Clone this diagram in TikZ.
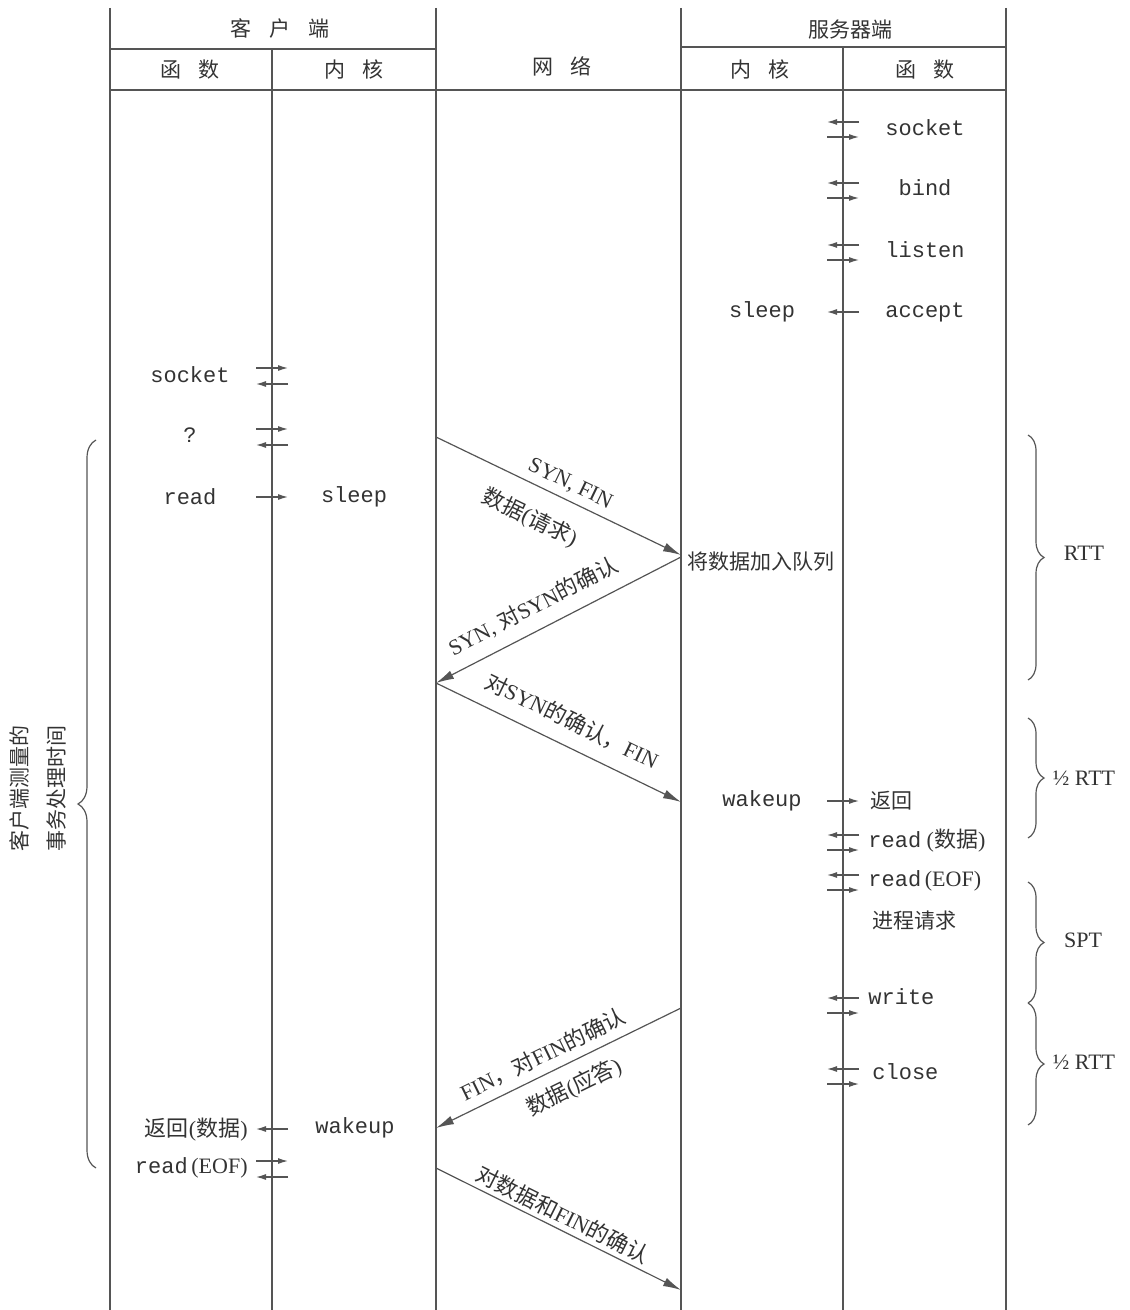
\documentclass[tikz,border=0pt]{standalone}
\usepackage{fontspec}
\setmainfont{Liberation Serif}
\setmonofont{Liberation Mono}
\newfontfamily\cjk{Noto Sans CJK SC}
\usepackage{tikz}
\usetikzlibrary{arrows.meta, decorations.pathreplacing}

\definecolor{ink}{HTML}{333333}
\definecolor{rulegray}{HTML}{555555}

\tikzset{
    fn/.style={font=\fontsize{11}{13}\selectfont\ttfamily, text=ink, inner sep=2pt},
    zh/.style={font=\fontsize{10.5}{13}\selectfont\cjk, text=ink, inner sep=2pt},
    lbl/.style={font=\fontsize{11}{13}\selectfont, text=ink, inner sep=2pt},
    call/.style={draw=rulegray, line width=0.6pt, -{Latex[length=5pt,width=3pt]}},
    seg/.style={draw=rulegray, line width=0.6pt, -{Latex[length=9pt,width=4.5pt]}},
    frame/.style={draw=rulegray, line width=0.7pt},
    brc/.style={draw=rulegray, line width=0.6pt, decorate, decoration={brace, amplitude=8pt}},
}

\begin{document}
\begin{tikzpicture}[x=0.5pt, y=-0.5pt]
        % with x=0.5pt and y=-0.5pt one unit is one pixel of the scan,
        % and y grows downwards like time does in this picture
        \useasboundingbox (0,0) rectangle (1129,1310);

        % the columns and the header rows
        \foreach \x in {110,436,681,1006} \draw[frame] (\x,8) -- (\x,1310);
        \draw[frame] (272,49) -- (272,1310);
        \draw[frame] (843,47) -- (843,1310);
        \draw[frame] (110,49) -- (436,49);
        \draw[frame] (681,47) -- (1006,47);
        \draw[frame] (110,90) -- (1006,90);

        \node[zh] (h-client) at (280,28) {客\hspace{0.85em}户\hspace{0.85em}端};
        \node[zh] (h-server) at (850,30) {服务器端};
        \node[zh] (h-cfn) at (190,70) {函\hspace{0.85em}数};
        \node[zh] (h-ckern) at (354,70) {内\hspace{0.85em}核};
        \node[zh] (h-net) at (562,66) {网\hspace{0.85em}络};
        \node[zh] (h-skern) at (760,70) {内\hspace{0.85em}核};
        \node[zh] (h-sfn) at (925,70) {函\hspace{0.85em}数};

        % server side: a call goes into the kernel (upper arrow) and comes back (lower one)
        \foreach \y [count=\i] in {129,190,252,842,882,1005,1076} {
            \coordinate (sk\i) at (843,\y);
            \draw[call] ([shift={(16,-7)}]sk\i) -- ([shift={(-16,-7)}]sk\i);
            \draw[call] ([shift={(-16,8)}]sk\i) -- ([shift={(16,8)}]sk\i);
        }
        % client side is the mirror image of that
        \foreach \y [count=\i] in {376,437,1169} {
            \coordinate (ck\i) at (272,\y);
            \draw[call] ([shift={(-16,-8)}]ck\i) -- ([shift={(16,-8)}]ck\i);
            \draw[call] ([shift={(16,8)}]ck\i) -- ([shift={(-16,8)}]ck\i);
        }

        \node[fn] (s-socket) at (925,128) {socket};
        \node[fn] (s-bind) at (925,188) {bind};
        \node[fn] (s-listen) at (925,250) {listen};
        \node[fn] (s-accept) at (925,312) {accept};
        \node[fn] (s-sleep) at (762,312) {sleep};
        \coordinate (s-acc) at (843,312);
        \draw[call] ([xshift=8pt]s-acc) -- ([xshift=-8pt]s-acc);

        \node[fn] (c-socket) at (190,375) {socket};
        \node[fn] (c-q) at (190,435) {?};
        \node[fn] (c-read) at (190,497) {read};
        \node[fn] (c-sleep) at (354,497) {sleep};
        \coordinate (c-rd) at (272,497);
        \draw[call] ([xshift=-8pt]c-rd) -- ([xshift=8pt]c-rd);

        \node[zh, anchor=west] (s-queue) at (683,562) {将数据加入队列};
        \node[fn] (s-wake) at (762,801) {wakeup};
        \node[zh, anchor=west] (s-ret) at (866,801) {返回};
        \coordinate (s-wk) at (843,801);
        \draw[call] ([xshift=-8pt]s-wk) -- ([xshift=8pt]s-wk);
        \node[lbl, anchor=west] (s-rdata) at (864,841) {\texttt{read} ({\cjk 数据})};
        \node[lbl, anchor=west] (s-reof) at (864,881) {\texttt{read}\,(EOF)};
        \node[zh, anchor=west] (s-proc) at (868,921) {进程请求};
        \node[fn, anchor=west] (s-write) at (864,997) {write};
        \node[fn, anchor=west] (s-close) at (868,1072) {close};

        \node[fn] (c-wake) at (355,1128) {wakeup};
        \node[lbl, anchor=east] (c-ret) at (252,1130) {{\cjk 返回}({\cjk 数据})};
        \coordinate (c-wk) at (272,1129);
        \draw[call] ([xshift=8pt]c-wk) -- ([xshift=-8pt]c-wk);
        \node[lbl, anchor=east] (c-reof) at (252,1168) {\texttt{read}\,(EOF)};

        % the segments that cross the network, sloped makes the labels follow them
        \coordinate (c1) at (436,437);  \coordinate (s1) at (681,555);
        \coordinate (s2) at (681,557);  \coordinate (c2) at (436,683);
        \coordinate (c3) at (436,683);  \coordinate (s3) at (681,802);
        \coordinate (s4) at (681,1008); \coordinate (c4) at (436,1128);
        \coordinate (c5) at (436,1168); \coordinate (s5) at (681,1290);

        \draw[seg] (c1) -- (s1)
            node[lbl, pos=0.52, sloped, above=1pt] (m-synfin) {SYN, FIN}
            node[lbl, pos=0.44, sloped, below=8pt] (m-req) {{\cjk 数据}({\cjk 请求})};
        \draw[seg] (s2) -- (c2)
            node[lbl, pos=0.56, sloped, above=4pt] (m-synack) {SYN, {\cjk 对}SYN{\cjk 的确认}};
        \draw[seg] (c3) -- (s3)
            node[lbl, pos=0.51, sloped, above=5pt] (m-ackfin) {{\cjk 对}SYN{\cjk 的确认，}FIN};
        \draw[seg] (s4) -- (c4)
            node[lbl, pos=0.53, sloped, above=2pt] (m-finack) {FIN{\cjk ，对}FIN{\cjk 的确认}}
            node[lbl, pos=0.48, sloped, below=4pt] (m-reply) {{\cjk 数据}({\cjk 应答})};
        \draw[seg] (c5) -- (s5)
            node[lbl, pos=0.49, sloped, above] (m-lastack) {{\cjk 对数据和}FIN{\cjk 的确认}};

        % braces on the right for the timing, and the big one on the left
        \draw[brc] (1028,435) -- (1028,680);
        \node[lbl] (t-rtt) at (1084,553) {RTT};
        \draw[brc] (1028,718) -- (1028,838);
        \node[lbl] (t-half1) at (1084,778) {½ RTT};
        \draw[brc] (1028,882) -- (1028,1003);
        \node[lbl] (t-spt) at (1083,940) {SPT};
        \draw[brc] (1028,1003) -- (1028,1125);
        \node[lbl] (t-half2) at (1084,1062) {½ RTT};

        \draw[brc, decoration={brace, amplitude=9pt}] (96,1168) -- (96,440);
        \node[zh, rotate=90, align=center, font=\fontsize{10.5}{18.5}\selectfont\cjk] (t-txn) at (38,788) {客户端测量的\\事务处理时间};
\end{tikzpicture}
\end{document}
